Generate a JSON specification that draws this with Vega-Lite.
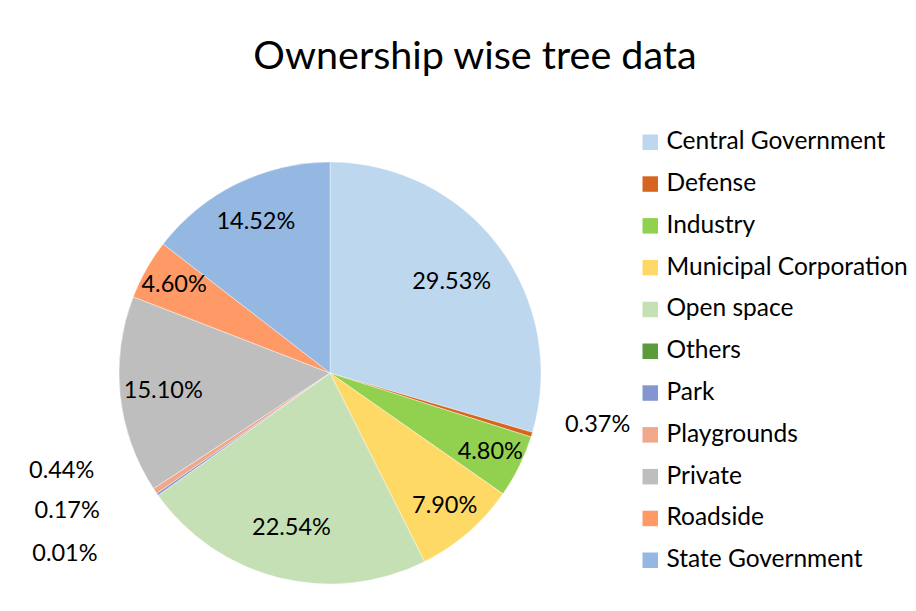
{
  "$schema": "https://vega.github.io/schema/vega-lite/v6.json",
  "width": 422,
  "height": 422,
  "autosize": {"type": "none"},
  "padding": {"left": 119, "top": 162, "right": 375, "bottom": 27},
  "background": "white",
  "title": {
    "text": "Ownership wise tree data",
    "font": "Lato",
    "fontSize": 39.5,
    "fontWeight": "normal",
    "color": "#000000",
    "anchor": "middle",
    "frame": "group",
    "dx": 145,
    "offset": 15,
    "baseline": "alphabetic"
  },
  "config": {"view": {"stroke": null}},
  "data": {
    "values": [
      {"category": "Central Government", "share": 0.2953},
      {"category": "Defense", "share": 0.0037},
      {"category": "Industry", "share": 0.048},
      {"category": "Municipal Corporation", "share": 0.079},
      {"category": "Open space", "share": 0.2254},
      {"category": "Others", "share": 0.0001},
      {"category": "Park", "share": 0.0017},
      {"category": "Playgrounds", "share": 0.0044},
      {"category": "Private", "share": 0.151},
      {"category": "Roadside", "share": 0.046},
      {"category": "State Government", "share": 0.1452}
    ]
  },
  "encoding": {
    "theta": {"field": "share", "type": "quantitative", "stack": true},
    "order": {"field": "category", "type": "nominal"}
  },
  "layer": [
    {
      "mark": {"type": "arc", "outerRadius": 211, "stroke": "white", "strokeWidth": 0.4},
      "encoding": {
        "color": {
          "field": "category",
          "type": "nominal",
          "scale": {
            "domain": ["Central Government", "Defense", "Industry", "Municipal Corporation", "Open space", "Others", "Park", "Playgrounds", "Private", "Roadside", "State Government"],
            "range": ["#BDD7EE", "#D6651F", "#92D050", "#FFD966", "#C5E0B4", "#5B9B3C", "#8496D0", "#F0A78A", "#BEBEBE", "#FF9966", "#95B8E2"]
          },
          "legend": {
            "title": null,
            "orient": "none",
            "legendX": 519,
            "legendY": -32,
            "padding": 0,
            "labelFont": "Lato",
            "labelFontSize": 24.5,
            "labelColor": "#000000",
            "labelLimit": 400,
            "labelOffset": 4,
            "symbolType": "square",
            "symbolSize": 240,
            "symbolStrokeWidth": 0,
            "symbolOpacity": 1,
            "rowPadding": 16.8
          }
        }
      }
    },
    {
      "mark": {"type": "text", "font": "Lato", "fontSize": 23.5, "fill": "#000000"},
      "encoding": {
        "radius": {"field": "share", "type": "quantitative", "scale": {"type": "linear", "zero": false, "domain": [0.046, 0.2953], "range": [179, 152]}},
        "text": {"condition": {"test": "datum.share >= 0.01", "field": "share", "type": "quantitative", "format": ".2%"}, "value": ""}
      }
    },
    {
      "mark": {"type": "text", "radius": 230, "align": "left", "baseline": "middle", "dx": 15, "dy": -15, "font": "Lato", "fontSize": 23.5, "fill": "#000000"},
      "encoding": {
        "text": {"condition": {"test": "datum.category === 'Defense'", "field": "share", "type": "quantitative", "format": ".2%"}, "value": ""}
      }
    },
    {
      "mark": {"type": "text", "radius": 230, "align": "right", "baseline": "middle", "dx": -45, "dy": -31, "font": "Lato", "fontSize": 23.5, "fill": "#000000"},
      "encoding": {
        "text": {"condition": {"test": "datum.category === 'Playgrounds'", "field": "share", "type": "quantitative", "format": ".2%"}, "value": ""}
      }
    },
    {
      "mark": {"type": "text", "radius": 230, "align": "right", "baseline": "middle", "dx": -42, "dy": 6, "font": "Lato", "fontSize": 23.5, "fill": "#000000"},
      "encoding": {
        "text": {"condition": {"test": "datum.category === 'Park'", "field": "share", "type": "quantitative", "format": ".2%"}, "value": ""}
      }
    },
    {
      "mark": {"type": "text", "radius": 230, "align": "right", "baseline": "middle", "dx": -45, "dy": 48, "font": "Lato", "fontSize": 23.5, "fill": "#000000"},
      "encoding": {
        "text": {"condition": {"test": "datum.category === 'Others'", "field": "share", "type": "quantitative", "format": ".2%"}, "value": ""}
      }
    }
  ]
}
